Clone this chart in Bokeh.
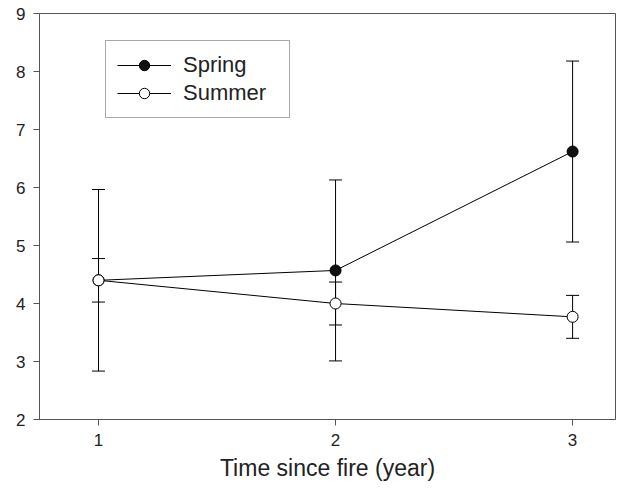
from bokeh.plotting import figure
from bokeh.models import ColumnDataSource, Whisker, TeeHead, Legend, LegendItem, FixedTicker
from bokeh.embed import file_html
from bokeh.resources import INLINE

# data
years = [1, 2, 3]
spring_mean = [4.40, 4.57, 6.62]
spring_se = [1.565, 1.56, 1.56]
summer_mean = [4.40, 4.00, 3.77]
summer_se = [0.375, 0.37, 0.37]
x_ticks = [1, 2, 3]
y_ticks = [2, 3, 4, 5, 6, 7, 8, 9]
x_label = "Time since fire (year)"

FONT = "Liberation Sans"
AX = "#555555"
TXT = "#222222"

spring_src = ColumnDataSource(dict(
    x=years, y=spring_mean,
    lo=[m - s for m, s in zip(spring_mean, spring_se)],
    hi=[m + s for m, s in zip(spring_mean, spring_se)]))
summer_src = ColumnDataSource(dict(
    x=years, y=summer_mean,
    lo=[m - s for m, s in zip(summer_mean, summer_se)],
    hi=[m + s for m, s in zip(summer_mean, summer_se)]))

p = figure(width=616, height=485, output_backend="svg", toolbar_location=None,
           x_range=(0.751, 3.181), y_range=(2, 9),
           min_border_left=39, min_border_right=1, min_border_top=13, min_border_bottom=66)
p.grid.visible = False
p.background_fill_color = "white"
p.border_fill_color = "white"
p.outline_line_color = AX
p.outline_line_width = 1

for ax in (p.xaxis[0], p.yaxis[0]):
    ax.axis_line_color = AX
    ax.major_tick_line_color = AX
    ax.major_tick_out = 6
    ax.major_tick_in = 0
    ax.minor_tick_line_color = None
    ax.major_label_text_font = FONT
    ax.major_label_text_font_size = "17px"
    ax.major_label_text_color = TXT
    ax.major_label_standoff = 8

p.xaxis.ticker = FixedTicker(ticks=x_ticks)
p.yaxis.ticker = FixedTicker(ticks=y_ticks)
p.xaxis.axis_label = x_label
p.xaxis.axis_label_text_font = FONT
p.xaxis.axis_label_text_font_size = "23px"
p.xaxis.axis_label_text_font_style = "normal"
p.xaxis.axis_label_text_color = TXT
p.xaxis.axis_label_standoff = 6

# connecting lines
l_sp = p.line("x", "y", source=spring_src, line_color="black", line_width=1)
l_su = p.line("x", "y", source=summer_src, line_color="black", line_width=1)

# error bars
for src in (spring_src, summer_src):
    w = Whisker(source=src, base="x", lower="lo", upper="hi", dimension="height",
                line_color="black", line_width=1,
                upper_head=TeeHead(size=13, line_color="black", line_width=1),
                lower_head=TeeHead(size=13, line_color="black", line_width=1))
    p.add_layout(w)

# markers
m_sp = p.scatter("x", "y", source=spring_src, size=11, marker="circle",
                 fill_color="#111111", line_color="black", line_width=1)
m_su = p.scatter("x", "y", source=summer_src, size=11, marker="circle",
                 fill_color="white", line_color="black", line_width=1)

legend = Legend(items=[
    LegendItem(label="Spring", renderers=[l_sp, m_sp]),
    LegendItem(label="Summer", renderers=[l_su, m_su]),
], location=(66, 301))
legend.label_text_font = FONT
legend.label_text_font_size = "22px"
legend.label_text_color = TXT
legend.glyph_width = 54
legend.glyph_height = 26
legend.label_height = 26
legend.label_standoff = 12
legend.label_width = 95
legend.padding = 11
legend.spacing = 2
legend.margin = 0
legend.border_line_color = AX
legend.border_line_width = 1
legend.background_fill_color = "white"
legend.background_fill_alpha = 1
p.add_layout(legend, "center")

open("out.html", "w").write(file_html(p, INLINE))
